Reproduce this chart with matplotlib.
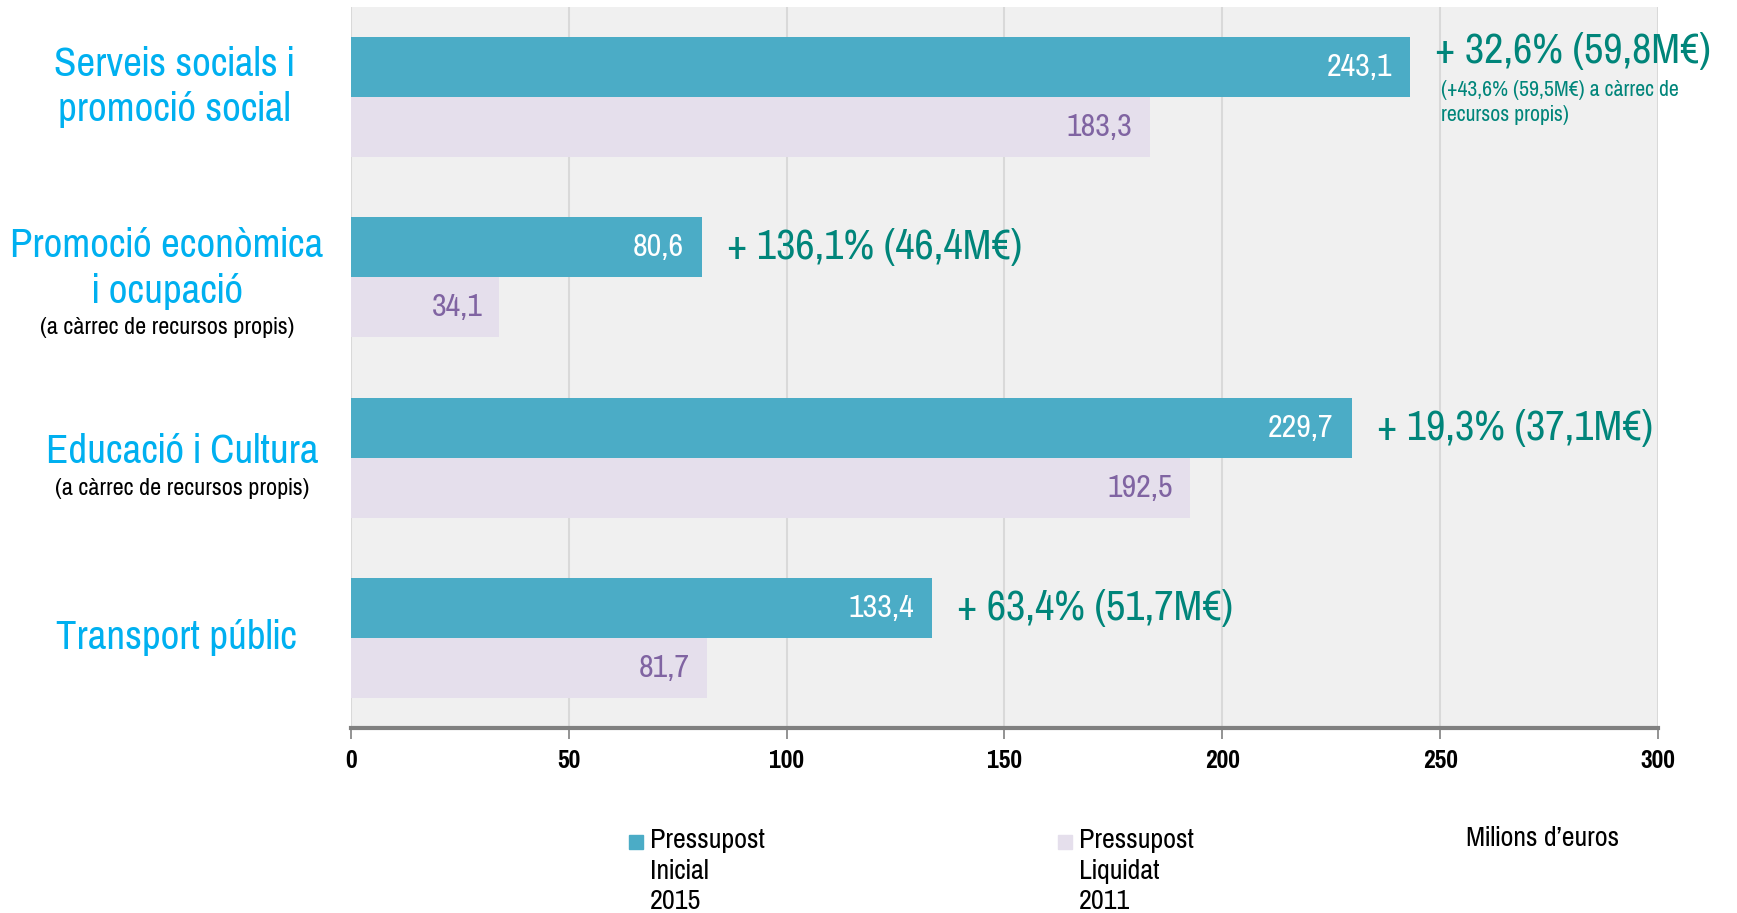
import matplotlib
matplotlib.use("Agg")
import matplotlib.pyplot as plt
from matplotlib import font_manager as fm
import numpy as np

available = {f.name for f in fm.fontManager.ttflist}
candidates = ["Liberation Sans Narrow", "Arial Narrow", "Pragati Narrow", "PT Sans Narrow",
              "Archivo Narrow", "Roboto Condensed", "Asap Condensed"]
narrow = [c for c in candidates if c in available]
plt.rcParams["font.family"] = narrow[:1] + ["DejaVu Sans"]

# data
categories = ["Serveis socials i\npromoció social", "Promoció econòmica\ni ocupació",
              "Educació i Cultura", "Transport públic"]
subtitles = ["", "(a càrrec de recursos propis)", "(a càrrec de recursos propis)", ""]
inicial_2015 = [243.1, 80.6, 229.7, 133.4]
liquidat_2011 = [183.3, 34.1, 192.5, 81.7]
increments = ["+ 32,6% (59,8M€)", "+ 136,1% (46,4M€)", "+ 19,3% (37,1M€)", "+ 63,4% (51,7M€)"]
increment_notes = ["(+43,6% (59,5M€) a càrrec de\nrecursos propis)", "", "", ""]
xticks = [0, 50, 100, 150, 200, 250, 300]

C_2015 = "#4BACC6"
C_2011 = "#E5DFEC"
C_VAL11 = "#8064A2"
C_INC = "#00857A"
C_CAT = "#00B0F0"

fig = plt.figure(figsize=(17.37, 9.13), dpi=100)
ax = fig.add_axes([0.202, 0.2026, 0.7525, 0.7897])
ax.set_facecolor("#F0F0F0")

y = np.arange(len(categories))
h = 1 / 3
ax.barh(y - h / 2, inicial_2015, height=h, color=C_2015, zorder=3)
ax.barh(y + h / 2, liquidat_2011, height=h, color=C_2011, zorder=3)

for i in range(len(categories)):
    ax.annotate(f"{inicial_2015[i]:.1f}".replace(".", ","), (inicial_2015[i], y[i] - h / 2),
                xytext=(-18, 0), textcoords="offset pixels", ha="right", va="center",
                color="white", fontsize=25, zorder=4)
    ax.annotate(f"{liquidat_2011[i]:.1f}".replace(".", ","), (liquidat_2011[i], y[i] + h / 2),
                xytext=(-17, 0), textcoords="offset pixels", ha="right", va="center",
                color=C_VAL11, fontsize=25, zorder=4)
    dy = 16 if increment_notes[i] else 0
    ax.annotate(increments[i], (inicial_2015[i], y[i] - h / 2),
                xytext=(25, dy), textcoords="offset pixels", ha="left", va="center",
                color=C_INC, fontsize=33, zorder=5, annotation_clip=False)
    if increment_notes[i]:
        ax.annotate(increment_notes[i], (inicial_2015[i], y[i] - h / 2),
                    xytext=(31, -13), textcoords="offset pixels", ha="left", va="top",
                    color=C_INC, fontsize=17, linespacing=1.3, zorder=5, annotation_clip=False)

ax.set_ylim(3.5, -0.5)
ax.set_xlim(0, 300)
ax.set_xticks(xticks)
ax.set_xticklabels([str(t) for t in xticks], fontsize=20, fontweight="bold")
ax.set_yticks([])
ax.grid(axis="x", color="#D9D9D9", linewidth=1.5, zorder=0)
ax.set_axisbelow(True)
for s in ["top", "right", "left"]:
    ax.spines[s].set_visible(False)
ax.spines["bottom"].set_color("#808080")
ax.spines["bottom"].set_linewidth(3)
ax.tick_params(axis="x", direction="out", length=8, width=1.2, color="#808080", pad=7)

# category labels
label_x = [174, 167, 182, 176]
label_dy = [-0.055, -0.05, -0.035, 0.0]
for i, cat in enumerate(categories):
    xf = label_x[i] / 1737
    yd = y[i] + label_dy[i]
    xa, ya = fig.transFigure.inverted().transform(ax.transData.transform((0, yd)))
    fig.text(xf, ya, cat, ha="center", va="center", color=C_CAT, fontsize=32, linespacing=1.28)
    if subtitles[i]:
        nlines = cat.count("\n") + 1
        sub_y = ya - nlines * 0.0245 - 0.016
        fig.text(xf, sub_y, subtitles[i], ha="center", va="center", color="black", fontsize=19)

# legend
leg_items = [("Pressupost\nInicial\n2015", C_2015, 629), ("Pressupost\nLiquidat\n2011", C_2011, 1058)]
for text, col, px in leg_items:
    fig.patches.append(plt.Rectangle((px / 1737, 1 - 849 / 913), 14 / 1737, 14 / 913,
                                     transform=fig.transFigure, color=col, figure=fig))
    fig.text((px + 21) / 1737, 1 - 828 / 913, text, ha="left", va="top", fontsize=22,
             linespacing=1.28, color="black")
fig.text(1466 / 1737, 1 - 838 / 913, "Milions d’euros", ha="left", va="center", fontsize=22,
         color="black")

fig.savefig("out.png", dpi=100)
